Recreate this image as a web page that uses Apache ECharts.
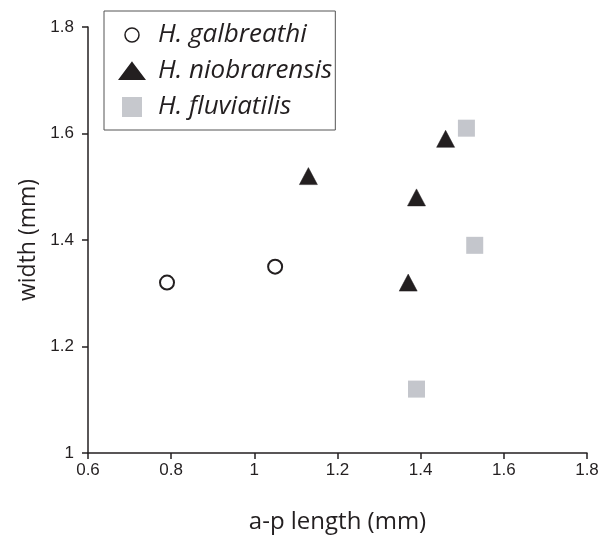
<!DOCTYPE html>
<html>
<head>
<meta charset="utf-8">
<script src="https://cdn.jsdelivr.net/npm/echarts@6/dist/echarts.min.js"></script>
<style>html,body{margin:0;padding:0;background:#fff;}#c{width:604px;height:539px;}</style>
</head>
<body>
<div id="c"></div>
<script>
var seriesNames = ['H. galbreathi', 'H. niobrarensis', 'H. fluviatilis'];
var galbreathi = [[0.79, 1.32], [1.05, 1.35]];
var niobrarensis = [[1.13, 1.52], [1.46, 1.59], [1.39, 1.48], [1.37, 1.32]];
var fluviatilis = [[1.51, 1.61], [1.53, 1.39], [1.39, 1.12]];
var xTicks = [0.6, 0.8, 1, 1.2, 1.4, 1.6, 1.8];
var yTicks = [1, 1.2, 1.4, 1.6, 1.8];

var ink = '#231f20';
var chart = echarts.init(document.getElementById('c'), null, {renderer: 'canvas'});
function tickFmt(v) { return String(+v.toFixed(1)); }
chart.setOption({
  animation: false,
  backgroundColor: '#fff',
  grid: {left: 88, right: 17, top: 27, bottom: 85, containLabel: false},
  xAxis: {
    type: 'value', min: xTicks[0], max: xTicks[xTicks.length - 1], interval: 0.2,
    name: 'a-p length (mm)', nameLocation: 'middle', nameGap: 57,
    nameTextStyle: {color: ink, fontFamily: 'Open Sans', fontSize: 24},
    axisLine: {show: true, lineStyle: {color: ink, width: 1.5}},
    axisTick: {show: true, inside: false, length: 6, lineStyle: {color: ink, width: 1.5}},
    axisLabel: {margin: 9, formatter: tickFmt, color: ink, fontFamily: 'Liberation Sans', fontSize: 17},
    splitLine: {show: false}
  },
  yAxis: {
    type: 'value', min: yTicks[0], max: yTicks[yTicks.length - 1], interval: 0.2,
    name: 'width (mm)', nameLocation: 'middle', nameGap: 46, nameRotate: 90,
    nameTextStyle: {color: ink, fontFamily: 'Open Sans', fontSize: 23},
    axisLine: {show: true, lineStyle: {color: ink, width: 1.5}},
    axisTick: {show: true, inside: false, length: 6, lineStyle: {color: ink, width: 1.5}},
    axisLabel: {margin: 14, formatter: tickFmt, color: ink, fontFamily: 'Liberation Sans', fontSize: 17},
    splitLine: {show: false}
  },
  legend: {
    orient: 'vertical', left: 104, top: 11,
    padding: [11, 3, 10, 15],
    borderColor: '#555', borderWidth: 1, backgroundColor: '#fff',
    itemWidth: 24, itemHeight: 20, itemGap: 10,
    textStyle: {color: ink, fontFamily: 'Open Sans', fontStyle: 'italic', fontSize: 26, lineHeight: 26, padding: [0, 0, 0, 9]},
    data: [
      {name: seriesNames[0], icon: 'path://M0,0 M24,20 M12,3 A7,7 0 1,1 12,17 A7,7 0 1,1 12,3 Z',
       itemStyle: {color: '#fff', borderColor: ink, borderWidth: 1.5, opacity: 1}},
      {name: seriesNames[1], icon: 'path://M0,0 M24,20 M12,2 L24,18 L0,18 Z',
       itemStyle: {color: ink, opacity: 1}},
      {name: seriesNames[2], icon: 'path://M0,0 M24,20 M2,0 L22,0 L22,20 L2,20 Z',
       itemStyle: {color: '#c6c8cd', opacity: 1}}
    ]
  },
  series: [
    {name: seriesNames[0], type: 'scatter', data: galbreathi, symbol: 'circle', symbolSize: 14,
     itemStyle: {color: '#fff', borderColor: ink, borderWidth: 2, opacity: 1}},
    {name: seriesNames[1], type: 'scatter', data: niobrarensis, symbol: 'triangle', symbolSize: [18, 17],
     itemStyle: {color: ink, borderColor: ink, borderWidth: 0.5, opacity: 1}},
    {name: seriesNames[2], type: 'scatter', data: fluviatilis, symbol: 'rect', symbolSize: 17,
     itemStyle: {color: '#c4c6cc', opacity: 1}}
  ]
});
</script>
</body>
</html>
